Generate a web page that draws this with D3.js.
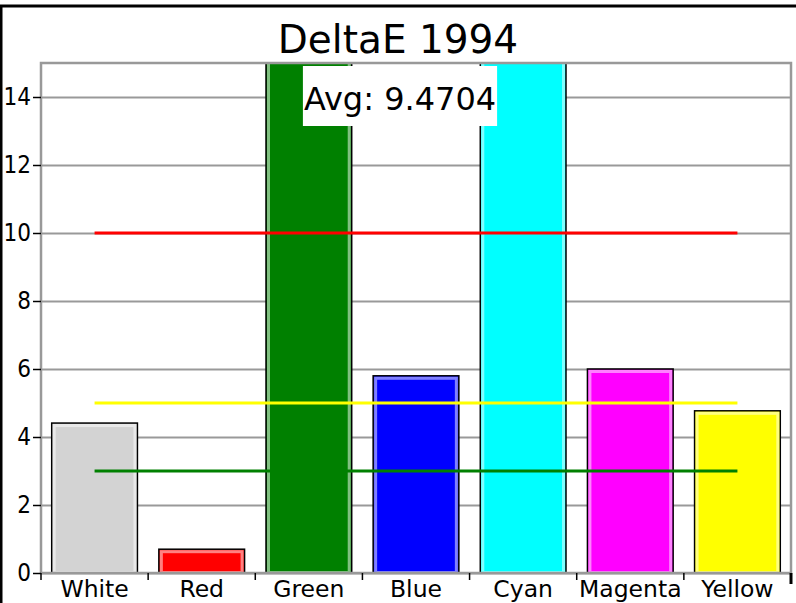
<!DOCTYPE html>
<html>
<head>
<meta charset="utf-8">
<script src="https://cdn.jsdelivr.net/npm/d3@7"></script>
<style>
  body { margin: 0; background: #fff; }
  svg { display: block; font-family: "DejaVu Sans", Verdana, sans-serif; }
</style>
</head>
<body>
<svg width="796" height="603"></svg>
<script>
// chart data
const categories = ["White", "Red", "Green", "Blue", "Cyan", "Magenta", "Yellow"];
const deltaE = [4.41, 0.70, 21.5, 5.80, 23.11, 6.00, 4.77];
const barColors = ["#d3d3d3", "#ff0000", "#008000", "#0000ff", "#00ffff", "#ff00ff", "#ffff00"];
const yTicks = [0, 2, 4, 6, 8, 10, 12, 14];
const refLevels = [10, 5, 3];
const refColors = ["#ff0000", "#ffff00", "#008000"];
const avgValue = 9.4704;
const title = "DeltaE 1994";

const svg = d3.select("svg");

// frame round the page
svg.append("rect")
    .attr("x", 1).attr("y", 6)
    .attr("width", 820).attr("height", 700)
    .attr("fill", "none")
    .attr("stroke", "#000")
    .attr("stroke-width", 3);

const plot = {left: 41, right: 791, top: 63, bottom: 573};

let x = d3.scaleBand()
    .domain(categories)
    .range([plot.left, plot.right])
    .paddingInner(0.2)
    .paddingOuter(0.1);
let y = d3.scaleLinear().domain([0, 15]).range([plot.bottom, plot.top]);

// gridlines
svg.append("g")
    .attr("transform", "translate(" + plot.left + ",0)")
    .call(d3.axisLeft(y).tickValues(yTicks).tickSize(-(plot.right - plot.left)).tickFormat(""))
    .call(g => g.select(".domain").remove())
    .call(g => g.selectAll("line").attr("stroke", "#999").attr("stroke-width", 2));

svg.append("clipPath").attr("id", "clip")
    .append("rect")
    .attr("x", plot.left).attr("y", plot.top)
    .attr("width", plot.right - plot.left).attr("height", plot.bottom - plot.top);

const bars = svg.append("g").attr("clip-path", "url(#clip)");

bars.selectAll(".bar")
    .data(categories)
    .enter().append("rect")
    .attr("class", "bar")
    .attr("x", d => x(d))
    .attr("width", x.bandwidth())
    .attr("y", (d, i) => y(deltaE[i]))
    .attr("height", (d, i) => plot.bottom - y(deltaE[i]))
    .attr("fill", (d, i) => barColors[i])
    .attr("stroke", "#000")
    .attr("stroke-width", 1.5);

// light inner edge of each bar
bars.selectAll(".barEdge")
    .data(categories)
    .enter().append("rect")
    .attr("class", "barEdge")
    .attr("x", d => x(d) + 2.5)
    .attr("width", x.bandwidth() - 5)
    .attr("y", (d, i) => y(deltaE[i]) + 2.5)
    .attr("height", (d, i) => Math.max(0, plot.bottom - y(deltaE[i]) - 3))
    .attr("fill", "none")
    .attr("stroke", "#fff")
    .attr("stroke-opacity", 0.5)
    .attr("stroke-width", 3);

// plot frame
svg.append("rect")
    .attr("x", plot.left).attr("y", plot.top)
    .attr("width", plot.right - plot.left).attr("height", plot.bottom - plot.top)
    .attr("fill", "none")
    .attr("stroke", "#999")
    .attr("stroke-width", 2.5);

// reference lines from first to last category centre
const x1 = x(categories[0]) + x.bandwidth() / 2;
const x2 = x(categories[categories.length - 1]) + x.bandwidth() / 2;
svg.selectAll(".ref")
    .data(refLevels)
    .enter().append("line")
    .attr("class", "ref")
    .attr("x1", x1).attr("x2", x2)
    .attr("y1", d => y(d)).attr("y2", d => y(d))
    .attr("stroke", (d, i) => refColors[i])
    .attr("stroke-width", 3);

// y axis
svg.append("g")
    .attr("transform", "translate(" + plot.left + ",0)")
    .call(d3.axisLeft(y).tickValues(yTicks).tickSize(8).tickPadding(2))
    .call(g => g.select(".domain").remove())
    .call(g => g.selectAll("line").attr("stroke", "#000").attr("stroke-width", 1.5))
    .call(g => g.selectAll("text").attr("font-size", 24).attr("fill", "#000")
        .attr("font-family", "DejaVu Sans Condensed, DejaVu Sans"));

// x axis: ticks at category boundaries, labels at centres
const step = x.step();
const bounds = categories.map(d => x(d) - step * 0.1).concat([plot.right]);
svg.selectAll(".xtick")
    .data(bounds)
    .enter().append("line")
    .attr("class", "xtick")
    .attr("x1", d => d).attr("x2", d => d)
    .attr("y1", plot.bottom).attr("y2", (d, i) => i === bounds.length - 1 ? plot.bottom + 11 : plot.bottom + 7)
    .attr("stroke", "#000")
    .attr("stroke-width", (d, i) => i === bounds.length - 1 ? 3 : 1.5);

svg.selectAll(".xlabel")
    .data(categories)
    .enter().append("text")
    .attr("class", "xlabel")
    .attr("x", d => x(d) + x.bandwidth() / 2)
    .attr("y", plot.bottom + 24)
    .attr("text-anchor", "middle")
    .attr("font-size", 23.5)
    .text(d => d);

// title
svg.append("text")
    .attr("x", 398)
    .attr("y", 53)
    .attr("text-anchor", "middle")
    .attr("font-size", 39)
    .text(title);

// average label
const avg = svg.append("g");
const avgText = avg.append("text")
    .attr("x", 400)
    .attr("y", 110)
    .attr("text-anchor", "middle")
    .attr("font-size", 32)
    .text("Avg: " + avgValue.toFixed(4));
const bb = avgText.node().getBBox();
avg.insert("rect", "text")
    .attr("x", bb.x - 1).attr("y", 66)
    .attr("width", bb.width + 2).attr("height", 60)
    .attr("fill", "#fff");
</script>
</body>
</html>
